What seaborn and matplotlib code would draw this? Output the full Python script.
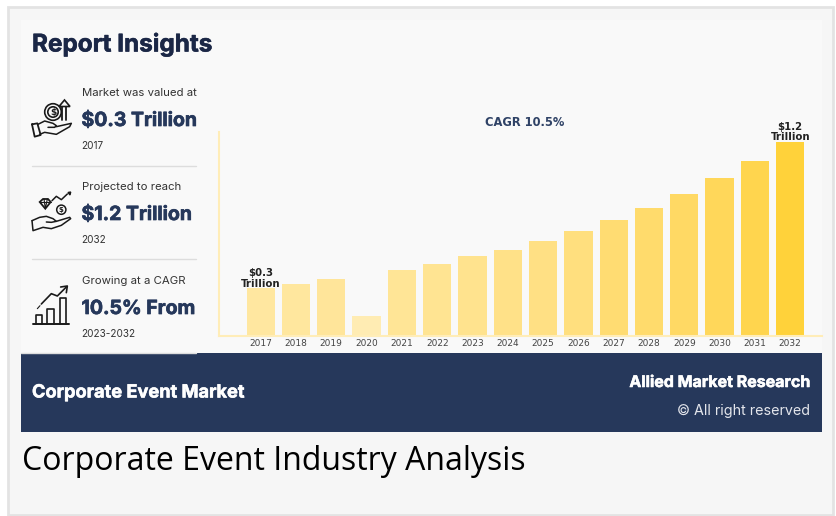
import matplotlib
matplotlib.use("Agg")
import matplotlib.pyplot as plt
import matplotlib.patheffects as pe
from matplotlib.patches import Rectangle, Circle, Polygon
import pandas as pd
import seaborn as sns

# Datos
years = [str(y) for y in range(2017, 2033)]
values = [0.295, 0.32, 0.352, 0.123, 0.407, 0.444, 0.492, 0.533,
          0.586, 0.648, 0.716, 0.79, 0.877, 0.973, 1.083, 1.2]
bar_colors = ["#FFE7A0", "#FFE79E", "#FFE59A", "#FFECB3", "#FFE596", "#FFE492", "#FFE38E", "#FFE188",
              "#FFE084", "#FFDF7E", "#FFDC72", "#FFDB6C", "#FFD964", "#FFD75A", "#FFD54E", "#FFD23A"]
stat_intro = ["Market was valued at", "Projected to reach", "Growing at a CAGR"]
stat_big = ["$0.3 Trillion", "$1.2 Trillion", "10.5% From"]
stat_small = ["2017", "2032", "2023-2032"]

NAVY = "#26385B"
DARK = "#1B2746"
INK = "#1A1A1A"
HEAD = "Inter"
W, H = 836, 516

sns.set_theme(style="white")
fig = plt.figure(figsize=(W / 100, H / 100), dpi=100, facecolor="white")

# Capa de fondo en pixeles
bg = fig.add_axes([0, 0, 1, 1])
bg.set_xlim(0, W)
bg.set_ylim(H, 0)
bg.axis("off")
bg.add_patch(Rectangle((8, 7), 825, 508, fc="#F6F6F6", ec="#E3E3E3", lw=2))
bg.add_patch(Rectangle((21, 20), 801, 333, fc="#F9F9F9", ec="none"))
bg.add_patch(Rectangle((21, 353), 801, 79, fc=NAVY, ec="none"))


def heavy(txt, width=0.4):
    # Inter sale mas fino que la fuente original, se engorda con un trazo
    txt.set_path_effects([pe.withStroke(linewidth=width, foreground=txt.get_color())])
    return txt


heavy(bg.text(32, 44, "Report Insights", fontsize=17.5, fontweight="bold", color=DARK,
              family=HEAD, va="center", ha="left"))

rows_y = [93, 187, 281]
for y0, a, b, c in zip(rows_y, stat_intro, stat_big, stat_small):
    bg.text(81.5, y0, a, fontsize=8.2, color="#333333", family=HEAD, va="center")
    heavy(bg.text(81.5, y0 + 28, b, fontsize=14, fontweight="bold", color=NAVY, family=HEAD, va="center"), 0.5)
    bg.text(81.5, y0 + 53, c, fontsize=7.2, color="#333333", family=HEAD, va="center")
for y0 in [165.5, 259]:
    bg.plot([32, 196], [y0, y0], color="#DDDDDD", lw=1)
bg.plot([21, 196], [352.5, 352.5], color="#DDDDDD", lw=1)


def line(pts, ox, oy, lw=1.1):
    # puntos medidos en el recorte ampliado 3x del icono
    xs = [ox + p[0] / 3 for p in pts]
    ys = [oy + p[1] / 3 for p in pts]
    bg.plot(xs, ys, color=INK, lw=lw, solid_capstyle="round", solid_joinstyle="round")


# Icono 1: moneda con flecha
ox, oy = 28, 95
line([(30, 88), (50, 78), (75, 85), (85, 92), (80, 97), (60, 97)], ox, oy)
line([(85, 95), (130, 85), (125, 95), (85, 118), (50, 112), (35, 118)], ox, oy)
line([(12, 88), (28, 85), (38, 120), (20, 125), (12, 88)], ox, oy, 1.3)
bg.add_patch(Circle((53, 112), 8.3, fc="none", ec=INK, lw=1.2))
bg.add_patch(Circle((53, 112), 5.2, fc="none", ec=INK, lw=1.2))
bg.text(53, 112, "$", fontsize=6.5, fontweight="bold", ha="center", va="center", color=INK)
bg.add_patch(Polygon([[59, 106.5], [64.5, 100], [70, 106.5]], fc="none", ec=INK, lw=1.2))
line([(101, 35), (101, 75)], ox, oy, 1.3)
line([(115, 35), (115, 75)], ox, oy, 1.3)

# Icono 2: diamante y moneda
ox, oy = 28, 188
line([(12, 98), (35, 88), (55, 85), (75, 92), (85, 100), (70, 103), (55, 102)], ox, oy)
line([(85, 100), (125, 88), (128, 92), (100, 112), (70, 122), (45, 118), (15, 128), (12, 98)], ox, oy)
bg.add_patch(Polygon([[39.7, 202], [43, 199], [48, 199], [50.7, 202], [45.3, 208.7]], fc="none", ec=INK, lw=1.3))
line([(35, 43), (68, 43)], ox, oy, 0.8)
line([(48, 33), (52, 62), (58, 33)], ox, oy, 0.8)
bg.add_patch(Circle((61.3, 209.7), 4.6, fc="none", ec=INK, lw=1.1))
bg.text(61.3, 209.7, "$", fontsize=5, fontweight="bold", ha="center", va="center", color=INK)
line([(72, 38), (85, 25), (100, 35), (118, 18)], ox, oy)
bg.add_patch(Polygon([[68, 192.5], [70.7, 192], [70, 195]], fc=INK, ec=INK, lw=1))

# Icono 3: barras con flecha
ox, oy = 28, 282
line([(15, 125), (122, 125)], ox, oy, 1.4)
for x0, x1, yt in [(23, 43, 98), (58, 78, 80), (95, 115, 47)]:
    line([(x0, 125), (x0, yt), (x1, yt), (x1, 125)], ox, oy, 1.2)
line([(40, 66), (70, 35), (88, 42), (115, 15)], ox, oy, 1.2)
line([(28, 80), (36, 71)], ox, oy, 0.8)
line([(98, 15), (118, 12), (115, 32)], ox, oy, 1.2)

# Grafico de barras
df = pd.DataFrame({"year": years, "value": values})
left, right, top, bottom = 219, 822, 131.5, 336
ax = fig.add_axes([left / W, 1 - bottom / H, (right - left) / W, (bottom - top) / H])
ax.patch.set_alpha(0)
sns.barplot(data=df, x="year", y="value", hue="year", palette=bar_colors, legend=False,
            width=0.8, saturation=1, linewidth=0, ax=ax)
ax.set_xlim(-1.18, 15.9)
ax.set_ylim(0, 1.2 * (bottom - top) / 194.4)
ax.set_xlabel("")
ax.set_ylabel("")
ax.set_yticks([])
ax.tick_params(axis="x", length=0, labelsize=6.5, labelcolor="#444444", pad=2)
sns.despine(ax=ax)
for side in ["left", "bottom"]:
    ax.spines[side].set_color("#FFEDB8")
    ax.spines[side].set_linewidth(1.5)

ax.text(0, values[0] - 0.005, "$0.3\nTrillion", fontsize=7.3, fontweight="bold", color="#222222",
        ha="center", va="bottom", linespacing=1.1)
ax.text(15, values[-1] - 0.005, "$1.2\nTrillion", fontsize=7.3, fontweight="bold", color="#222222",
        ha="center", va="bottom", linespacing=1.1, clip_on=False)
bg.text(525, 122.5, "CAGR 10.5%", fontsize=8.3, fontweight="bold", color="#2F4266",
        ha="center", va="center", family="DejaVu Sans")

# Banda inferior
heavy(bg.text(32, 393, "Corporate Event Market", fontsize=13.1, fontweight="bold", color="white",
              family=HEAD, va="center"))
heavy(bg.text(810, 382.5, "Allied Market Research", fontsize=11.5, fontweight="bold", color="white",
              family=HEAD, va="center", ha="right"))
bg.text(810, 411, "© All right reserved", fontsize=10.3, color="#E4E6EC",
        family=HEAD, va="center", ha="right")
bg.text(22, 461, "Corporate Event Industry Analysis", fontsize=23, color="black",
        family="Open Sans", va="center")

fig.savefig("out.png", dpi=100)
